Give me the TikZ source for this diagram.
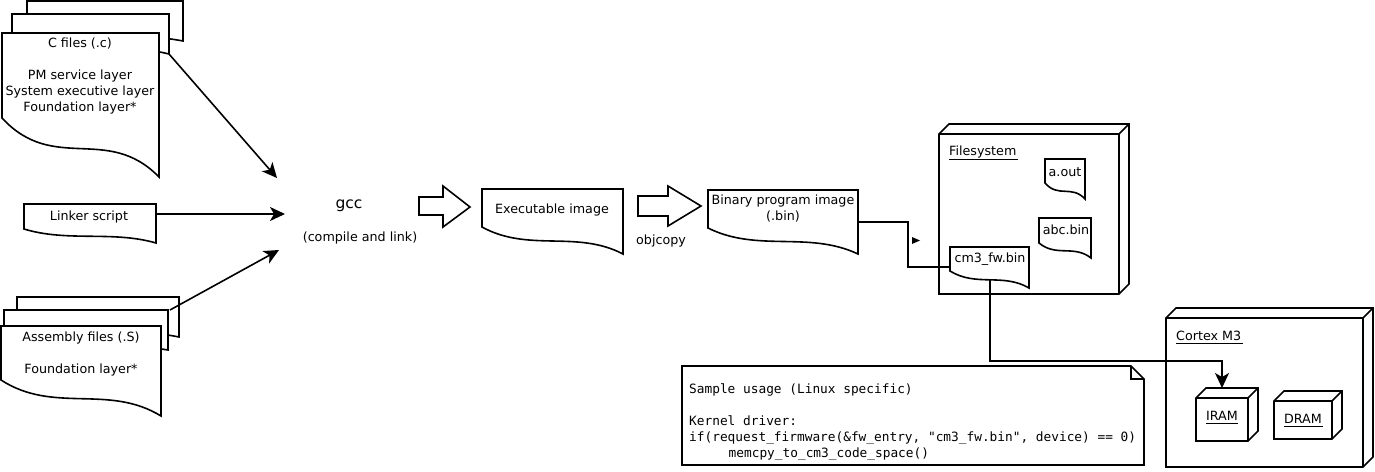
\documentclass[tikz,border=0pt]{standalone}
\usepackage{fontspec}
\setmainfont{DejaVu Sans}
\newfontfamily\codefont{DejaVu Sans Mono}
\usetikzlibrary{arrows.meta}
\tikzset{
  ln/.style={line width=1.6pt,draw=black},
  sheet/.style={ln,fill=white,line join=miter},
  conn/.style={ln,-{Stealth[length=15pt,width=14pt,inset=4pt]}},
  plain/.style={ln},
  under/.style={line width=0.9pt,draw=black},
  lbl/.style={inner sep=0pt,font=\fontsize{12.7}{16}\selectfont,align=center},
  blockarrow/.style={ln,fill=white,line join=miter},
}
% name, x1, ytop, x2, yleftbottom, yrightbottom
\newcommand{\docsheet}[6]{%
  \path[sheet,draw] (#2,#3) -- (#4,#3) -- (#4,#6)
    .. controls ({#2+(#4-#2)*0.67},{#5+(#6-#5)*0.10}) and ({#2+(#4-#2)*0.33},{#5+(#6-#5)*0.95}) .. (#2,#5) -- cycle;
  \coordinate (#1) at ({(#2+#4)/2},{(#3+#5)/2});
}
% name, x1, y1, x2, y2 (front face), depth 10
\newcommand{\cube}[5]{%
  \path[sheet,draw] (#2,#3) -- ++(10,-10) -- (#4+10,#3-10) -- (#4+10,#5-10) -- (#4,#5) -- (#2,#5) -- cycle;
  \path[ln,draw] (#2,#3) -- (#4,#3) -- (#4,#5) (#4,#3) -- (#4+10,#3-10);
  \coordinate (#1) at ({(#2+#4)/2},{(#3+#5)/2});
}
\begin{document}
\begin{tikzpicture}[x=1pt,y=-1pt]
\useasboundingbox (0,0) rectangle (1375,471);
% C files stack
\docsheet{cback}{27}{1}{183}{30}{41}
\docsheet{cmid}{12}{14}{169}{40}{54}
\docsheet{cfile}{2}{33}{159}{118}{177}
\node[lbl,anchor=north] (ctext) at (80,37.5) {C files (.c)\\[16pt]PM service layer\\System executive layer\\Foundation layer*};
% Linker
\docsheet{linker}{24}{204}{156}{229}{243}
\node[lbl] (ltext) at (89,217) {Linker script};
% Assembly stack
\docsheet{aback}{17}{297}{179}{325}{337}
\docsheet{amid}{4}{310}{168}{340}{350}
\docsheet{afile}{1}{326}{161}{380}{416}
\node[lbl,anchor=north] (atext) at (81,332) {Assembly files (.S)\\[16pt]Foundation layer*};
% gcc
\node[lbl,font=\fontsize{15.5}{18}\selectfont] (gcc) at (349,206) {gcc};
\node[lbl] (compile) at (360,238) {(compile and link)};
\coordinate (gccc) at (277,178);
\coordinate (gccl) at (285,214);
\coordinate (gcca) at (279,250);
\coordinate (cout) at (169,54);
\coordinate (lout) at (156,214);
\coordinate (aout) at (170,310);
\draw[conn] (cout) -- (gccc);
\draw[conn] (lout) -- (gccl);
\draw[conn] (aout) -- (gcca);
% Block arrows
\path[blockarrow,draw] (419,197) -- (443,197) -- (443,186) -- (470,207) -- (443,227) -- (443,215) -- (419,215) -- cycle;
\path[blockarrow,draw] (638,196) -- (668,196) -- (668,186) -- (701,206) -- (668,226) -- (668,216) -- (638,216) -- cycle;
% Executable
\docsheet{exe}{482}{189}{623}{227}{254}
\node[lbl] (etext) at (552,210) {Executable image};
\node[lbl] (objcopy) at (661,241) {objcopy};
% Binary
\docsheet{bin}{708}{190}{858}{228}{254}
\node[lbl,anchor=north] (btext) at (783,195) {Binary program image\\(.bin)};
% Filesystem
\cube{fs}{939}{134}{1119}{294}
\node[lbl,anchor=base west] (fslabel) at (949,155.5) {Filesystem};
\draw[under] (949,159) -- (1018,159);
\docsheet{aoutf}{1045}{159}{1085}{183}{199}
\node[lbl] (aouttext) at (1065,172) {a.out};
\docsheet{abc}{1039}{218}{1091}{243}{258}
\node[lbl] (abctext) at (1066,230) {abc.bin};
\docsheet{cm3}{950}{247}{1029}{271}{288}
\node[lbl] (cm3text) at (990,259) {cm3\_fw.bin};
% binary to cm3
\coordinate (binout) at (858,222);
\coordinate (cm3in) at (950,267);
\draw[plain] (binout) -| (908,267) -- (cm3in);
\path[fill=black] (912,237) -- (920,240.5) -- (912,244) -- cycle;
% Cortex
\cube{cortex}{1166}{318}{1363}{467}
\node[lbl,anchor=base west] (cortexlabel) at (1176,340) {Cortex M3};
\draw[under] (1176,343) -- (1243,343);
\cube{iram}{1196}{398}{1248}{441}
\node[lbl] (iramtext) at (1222,416) {IRAM};
\draw[under] (1206,423) -- (1238,423);
\cube{dram}{1274}{401}{1332}{439}
\node[lbl] (dramtext) at (1303,419) {DRAM};
\draw[under] (1284,426) -- (1323,426);
% cm3 to iram
\coordinate (cm3out) at (990,280);
\coordinate (iramin) at (1222,388);
\draw[conn] (cm3out) |- (1222,361) -- (iramin);
% Note
\path[sheet,draw] (682,366) -- (1131,366) -- (1144,379) -- (1144,465) -- (682,465) -- cycle;
\path[ln,draw] (1131,366) -- (1131,379) -- (1144,379);
\node[inner sep=0pt,anchor=north west,align=left,font=\fontsize{12.8}{16}\codefont] (note) at (689,383) {Sample usage (Linux specific)\\[16pt]Kernel driver:\\if(request\_firmware(\&fw\_entry, "cm3\_fw.bin", device) == 0)\\\hspace*{39.5pt}memcpy\_to\_cm3\_code\_space()};
\end{tikzpicture}
\end{document}
